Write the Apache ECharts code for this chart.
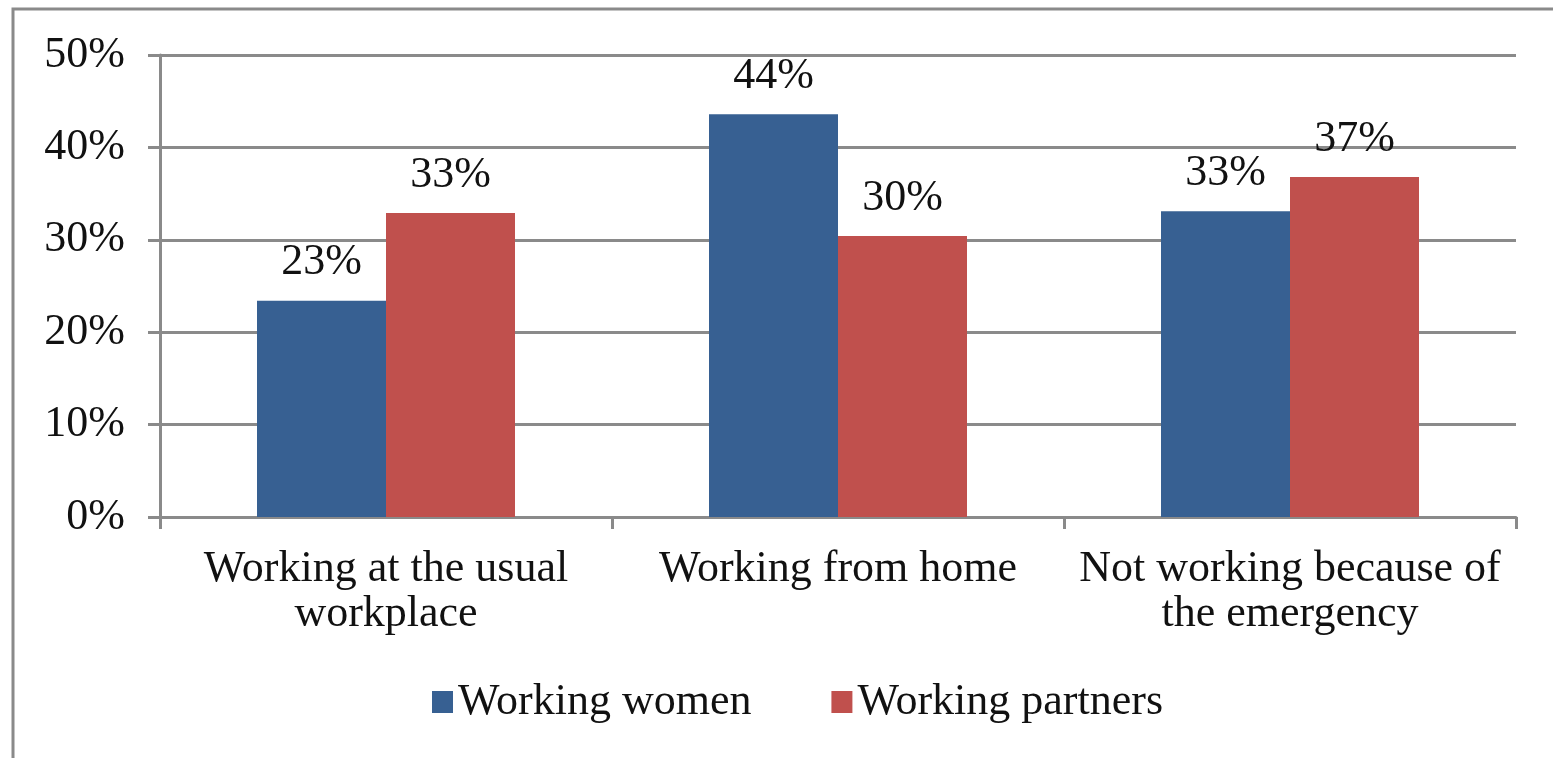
<!DOCTYPE html>
<html><head><meta charset="utf-8">
<script src="https://cdn.jsdelivr.net/npm/echarts@6/dist/echarts.min.js"></script>
<style>html,body{margin:0;padding:0;background:#fff}#c{width:1553px;height:758px}</style>
</head><body><div id="c"></div>
<script>
const categories = ['Working at the usual\nworkplace', 'Working from home', 'Not working because of\nthe emergency'];
const seriesNames = ['Working women', 'Working partners'];
const womenValues = [23.4, 43.6, 33.1];
const partnersValues = [32.9, 30.4, 36.8];
const yTicks = [0, 10, 20, 30, 40, 50];

const font = 'Liberation Serif';
const fs = 44;
const chart = echarts.init(document.getElementById('c'));
chart.setOption({
  animation: false,
  backgroundColor: '#fff',
  textStyle: { fontFamily: font },
  graphic: [{
    type: 'polyline',
    shape: { points: [[13, 758], [13, 9], [1553, 9]] },
    style: { stroke: '#8a8a8a', lineWidth: 3, fill: null }
  }],
  grid: { left: 160, right: 37, top: 55, bottom: 241 },
  legend: {
    data: seriesNames,
    top: 675,
    left: 427,
    itemWidth: 21,
    itemHeight: 22,
    itemGap: 80,
    icon: 'rect',
    textStyle: { fontFamily: font, fontSize: fs, color: '#111' }
  },
  xAxis: {
    type: 'category',
    data: categories,
    axisLine: { lineStyle: { color: '#8a8a8a', width: 3 } },
    axisTick: { show: true, length: 12, lineStyle: { color: '#8a8a8a', width: 3 } },
    axisLabel: { fontFamily: font, fontSize: fs, color: '#111', margin: 30, lineHeight: 45, interval: 0 }
  },
  yAxis: {
    type: 'value',
    min: yTicks[0],
    max: yTicks[yTicks.length - 1],
    interval: 10,
    axisLine: { show: true, lineStyle: { color: '#8a8a8a', width: 3 } },
    axisTick: { show: true, length: 12, lineStyle: { color: '#8a8a8a', width: 3 } },
    splitLine: { lineStyle: { color: '#8a8a8a', width: 3 } },
    axisLabel: { fontFamily: font, fontSize: fs, color: '#111', margin: 35, formatter: v => v + '%' }
  },
  series: [
    {
      name: seriesNames[0], type: 'bar', data: womenValues, barWidth: 129, barGap: '0%',
      itemStyle: { color: '#376092' },
      label: { show: true, position: 'top', distance: 16, fontFamily: font, fontSize: fs, color: '#111', formatter: p => Math.round(p.value) + '%' }
    },
    {
      name: seriesNames[1], type: 'bar', data: partnersValues, barWidth: 129,
      itemStyle: { color: '#C0504D' },
      label: { show: true, position: 'top', distance: 16, fontFamily: font, fontSize: fs, color: '#111', formatter: p => Math.round(p.value) + '%' }
    }
  ]
});
</script></body></html>
